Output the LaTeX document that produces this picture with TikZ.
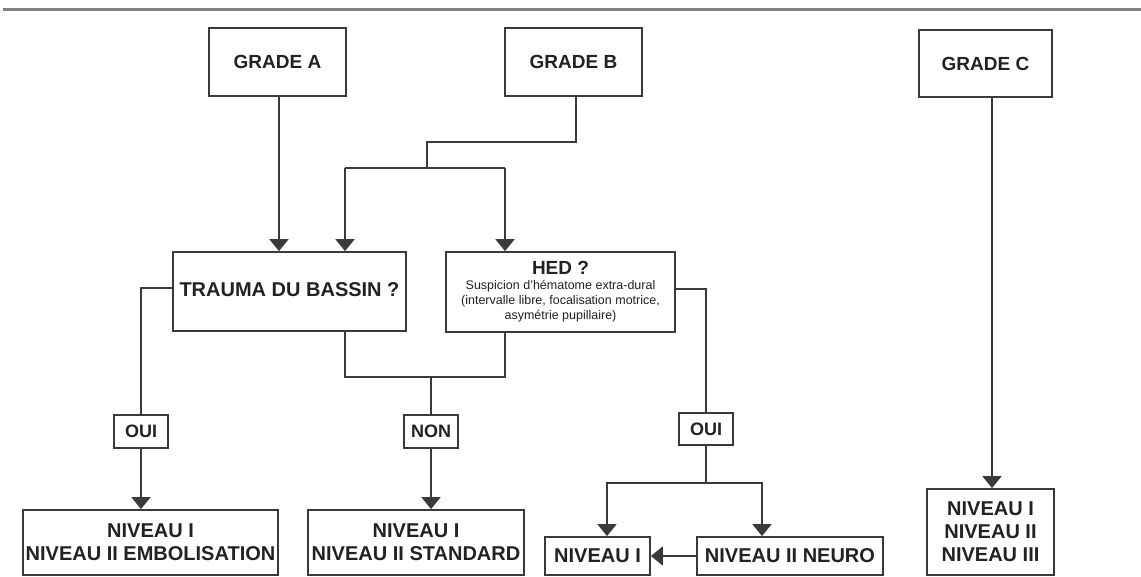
\documentclass[tikz,border=0pt]{standalone}
\usepackage{fontspec}
\setmainfont{Liberation Sans}
\usetikzlibrary{arrows.meta}
\definecolor{ln}{HTML}{3A3A3A}
\definecolor{tx}{HTML}{222222}
\definecolor{rule}{HTML}{808080}
\tikzset{
  box/.style={draw=ln, line width=1.8pt, fill=white, text=tx, inner sep=0pt, align=center,
    font=\bfseries\fontsize{20}{23}\selectfont},
  gradebox/.style={box, font=\bfseries\fontsize{19}{22}\selectfont},
  tagbox/.style={box, minimum width=54pt, minimum height=33pt, font=\bfseries\fontsize{18}{20}\selectfont},
  conn/.style={draw=ln, line width=1.8pt},
  arr/.style={conn, -{Triangle[width=19pt,length=12pt]}},
  arrboth/.style={conn, {Triangle[width=19pt,length=12pt]}-{Triangle[width=19pt,length=12pt]}}
}
\begin{document}
\begin{tikzpicture}[x=1pt,y=-1pt]
\useasboundingbox (0,0) rectangle (1141,576);
\fill[white] (0,0) rectangle (1141,576);
% top rule
\coordinate (r1) at (3,9);
\coordinate (r2) at (1141,9);
\draw[rule, line width=3pt] (r1) -- (r2);

% grades
\node[gradebox, minimum width=137pt, minimum height=68pt] (gA) at (277.5,62) {GRADE A};
\node[gradebox, minimum width=137pt, minimum height=68pt] (gB) at (573.5,62) {GRADE B};
\node[gradebox, minimum width=133pt, minimum height=67pt] (gC) at (985.5,63.5) {GRADE C};

% questions
\node[box, minimum width=233pt, minimum height=79pt, font=\bfseries\fontsize{20}{24}\selectfont] (trauma) at (289.5,291.5) {\raisebox{4pt}{TRAUMA DU BASSIN ?}};
\node[box, minimum width=229pt, minimum height=80pt, font=\fontsize{12.5}{15}\selectfont] (hed) at (560.5,292)
  {{\bfseries\fontsize{19}{19}\selectfont HED ?}\\Suspicion d'hématome extra-dural\\(intervalle libre, focalisation motrice,\\asymétrie pupillaire)};

% tags
\node[tagbox] (oui1) at (141,431.5) {OUI};
\node[tagbox] (non) at (431,431.5) {NON};
\node[tagbox, minimum height=32pt] (oui3) at (706,429) {OUI};

% outcomes
\node[box, minimum width=255pt, minimum height=65pt] (b1) at (150.5,542.5) {NIVEAU I\\NIVEAU II EMBOLISATION};
\node[box, minimum width=216pt, minimum height=65pt] (b2) at (416,542.5) {NIVEAU I\\NIVEAU II STANDARD};
\node[box, minimum width=105pt, minimum height=38pt] (b3) at (597.5,556) {NIVEAU I};
\node[box, minimum width=186pt, minimum height=38pt] (b4) at (790,556) {NIVEAU II NEURO};
\node[box, minimum width=127pt, minimum height=86pt] (bC) at (990.5,532) {NIVEAU I\\NIVEAU II\\NIVEAU III};

% junction coordinates
\coordinate (aL) at (279,200);
\coordinate (bturn) at (576,142);
\coordinate (jB2) at (427,168);
\coordinate (jT) at (345,168);
\coordinate (jH) at (505,168);
\coordinate (tl) at (141,288);
\coordinate (jT2) at (345,377);
\coordinate (jH2) at (505,377);
\coordinate (hr) at (706,289);
\coordinate (jL) at (607,483);
\coordinate (jR) at (762,483);
\coordinate (cx) at (992,300);

% connectors
\draw[arr] (gA.south -| aL) -- (trauma.north -| aL);
\draw[conn] (gB.south -| bturn) -- (bturn) -| (jB2);
\draw[conn] (jT) -- (jH);
\draw[arr] (jT) -- (jT |- trauma.north);
\draw[arr] (jH) -- (jH |- hed.north);

\draw[conn] (trauma.west |- tl) -- (tl) -- (oui1.north);
\draw[arr] (oui1.south) -- (oui1.south |- b1.north);

\draw[conn] (jT2 |- trauma.south) -- (jT2) -- (jH2) -- (jH2 |- hed.south);
\draw[conn] (non.north |- jT2) -- (non.north);
\draw[arr] (non.south) -- (non.south |- b2.north);

\draw[conn] (hed.east |- hr) -- (hr) -- (oui3.north);
\draw[conn] (oui3.south) -- (oui3.south |- jL);
\draw[arrboth] (jL |- b3.north) -- (jL) -- (jR) -- (jR |- b4.north);
\draw[arr] (b4.west) -- (b3.east);

\draw[arr] (gC.south -| cx) -- (bC.north -| cx);
\end{tikzpicture}
\end{document}
